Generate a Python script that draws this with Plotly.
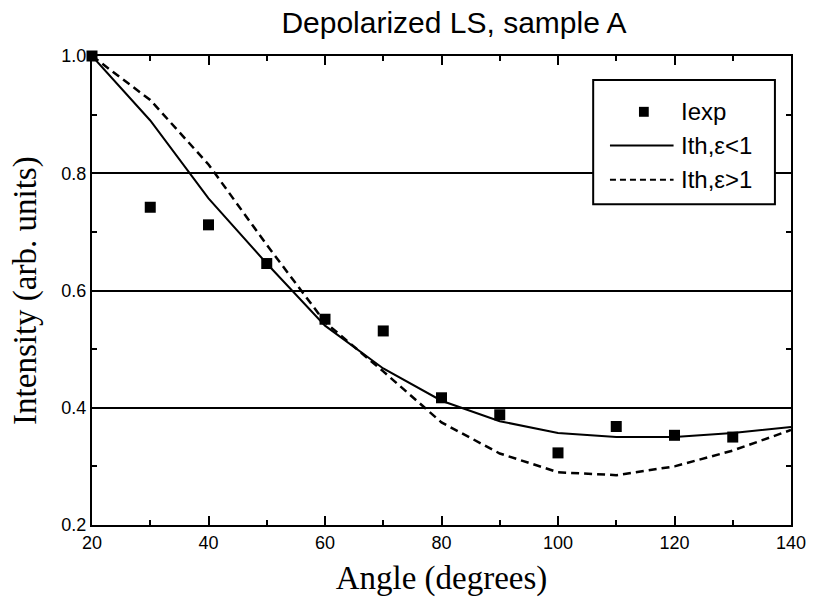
import plotly.graph_objects as go

# Data
angles_exp = [20, 30, 40, 50, 60, 70, 80, 90, 100, 110, 120, 130]
i_exp = [1.0, 0.742, 0.712, 0.646, 0.551, 0.531, 0.417, 0.388, 0.323, 0.368, 0.353, 0.350]

angles_th = [20, 30, 40, 50, 60, 70, 80, 90, 100, 110, 120, 130, 140]
i_th_lt1 = [1.0, 0.890, 0.757, 0.646, 0.540, 0.467, 0.412, 0.377, 0.357, 0.350, 0.350, 0.357, 0.367]
i_th_gt1 = [1.0, 0.925, 0.815, 0.678, 0.546, 0.462, 0.375, 0.322, 0.290, 0.285, 0.300, 0.327, 0.362]

x_ticks = [20, 40, 60, 80, 100, 120, 140]
y_ticks = [0.2, 0.4, 0.6, 0.8, 1.0]

fig = go.Figure()
fig.add_trace(go.Scatter(x=angles_th, y=i_th_lt1, mode="lines",
                         line=dict(color="black", width=2), name="Ith,ε<1",
                         showlegend=False))
fig.add_trace(go.Scatter(x=angles_th, y=i_th_gt1, mode="lines",
                         line=dict(color="black", width=2.5, dash="8px,5px"),
                         name="Ith,ε>1", showlegend=False))
fig.add_trace(go.Scatter(x=angles_exp, y=i_exp, mode="markers",
                         marker=dict(symbol="square", size=11, color="black"),
                         name="Iexp", showlegend=False, cliponaxis=False))

tick_font = dict(family="Liberation Sans, Arial", size=18, color="black")
serif = dict(family="Liberation Serif, Times New Roman", size=33, color="black")

fig.update_xaxes(range=[20, 140], tickvals=x_ticks, ticks="inside", ticklen=9,
                 tickwidth=2, tickcolor="black", showline=True, linewidth=2,
                 linecolor="black", mirror="ticks", showgrid=False, zeroline=False,
                 tickfont=tick_font,
                 minor=dict(dtick=10, ticks="inside", ticklen=5, tickwidth=2,
                            tickcolor="black", showgrid=False),
                 title=dict(text="Angle (degrees)", font=serif, standoff=14))
fig.update_yaxes(range=[0.2, 1.0], tickvals=y_ticks, tickformat=".1f",
                 ticks="inside", ticklen=9, tickwidth=2, tickcolor="black",
                 showline=True, linewidth=2, linecolor="black", mirror="ticks",
                 showgrid=True, gridcolor="black", gridwidth=1.5, zeroline=False,
                 tickfont=tick_font,
                 minor=dict(dtick=0.1, ticks="inside", ticklen=5, tickwidth=2,
                            tickcolor="black", showgrid=False))

# Y axis title as a rotated annotation
fig.add_annotation(x=-0.0953, y=0.5, xref="paper", yref="paper",
                   text="Intensity (arb. units)", textangle=-90, showarrow=False,
                   xanchor="center", yanchor="middle", font=serif)

# Manual legend box (paper coordinates)
L, R = 0.717, 0.977
T, B = 0.949, 0.684
fig.add_shape(type="rect", xref="paper", yref="paper", x0=L, x1=R, y0=B, y1=T,
              line=dict(color="black", width=2), fillcolor="white", layer="above")
ys = [0.881, 0.809, 0.736]
labels = ["Iexp", "Ith,ε<1", "Ith,ε>1"]
# symbol for Iexp
fig.add_shape(type="rect", xref="paper", yref="paper",
              x0=0.7825, x1=0.7965, y0=ys[0] - 0.0106, y1=ys[0] + 0.0106,
              line=dict(width=0), fillcolor="black", layer="above")
fig.add_shape(type="line", xref="paper", yref="paper", x0=0.741, x1=0.832,
              y0=ys[1], y1=ys[1], line=dict(color="black", width=2), layer="above")
fig.add_shape(type="line", xref="paper", yref="paper", x0=0.741, x1=0.832,
              y0=ys[2], y1=ys[2], line=dict(color="black", width=2, dash="6px,4px"),
              layer="above")
for yv, lab in zip(ys, labels):
    fig.add_annotation(x=0.840, y=yv, xref="paper", yref="paper", text=lab,
                       showarrow=False, xanchor="left", yanchor="middle",
                       font=dict(family="Liberation Sans, Arial", size=24, color="black"))

fig.update_layout(
    width=818, height=602,
    margin=dict(l=92, r=23, t=56, b=75),
    paper_bgcolor="white", plot_bgcolor="white",
    title=dict(text="Depolarized LS, sample A", x=0.555, xanchor="center",
               y=0.963, yanchor="middle",
               font=dict(family="Liberation Sans, Arial", size=30, color="black")),
)

fig.write_html("out.html")
